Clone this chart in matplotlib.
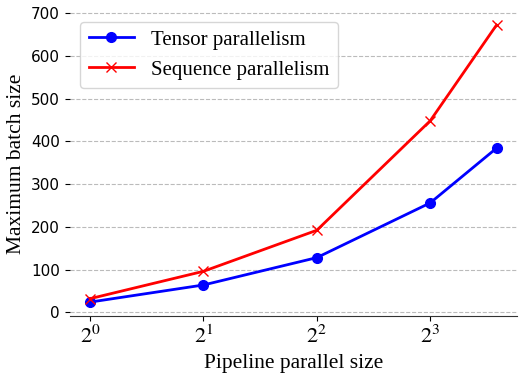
import matplotlib
matplotlib.use("Agg")
import matplotlib.pyplot as plt

pipeline_sizes = [1, 2, 4, 8, 12]
tensor_batch = [24, 64, 128, 256, 384]
sequence_batch = [32, 96, 192, 448, 672]
x_ticks = [1, 2, 4, 8]
x_tick_labels = [r"$2^{0}$", r"$2^{1}$", r"$2^{2}$", r"$2^{3}$"]

plt.rcParams["mathtext.fontset"] = "stix"
serif = "Liberation Serif"

fig = plt.figure(figsize=(5.21, 3.73), dpi=100)
ax = fig.add_axes([0.134, 0.153, 0.858, 0.817])

ax.plot(pipeline_sizes, tensor_batch, color="blue", marker="o", markersize=7,
        linewidth=2, label="Tensor parallelism")
ax.plot(pipeline_sizes, sequence_batch, color="red", marker="x", markersize=7,
        linewidth=2, label="Sequence parallelism")

ax.set_xscale("log", base=2)
ax.set_xticks(x_ticks)
ax.set_xticklabels(x_tick_labels, fontsize=16, fontfamily=serif)
ax.minorticks_off()
ax.set_yticks(range(0, 701, 100))
ax.tick_params(axis="y", labelsize=11)

ax.grid(axis="y", linestyle="--", color="#bbbbbb")
ax.set_axisbelow(True)
for s in ["top", "right", "left"]:
    ax.spines[s].set_visible(False)
ax.spines["bottom"].set_color("#333333")

ax.set_xlabel("Pipeline parallel size", fontsize=15.5, fontfamily=serif)
ax.set_ylabel("Maximum batch size", fontsize=15.5, fontfamily=serif)

ax.legend(loc="upper left", prop={"family": serif, "size": 15},
          bbox_to_anchor=(0.0, 1.0), handlelength=2.2)

fig.savefig("out.png", dpi=100)
